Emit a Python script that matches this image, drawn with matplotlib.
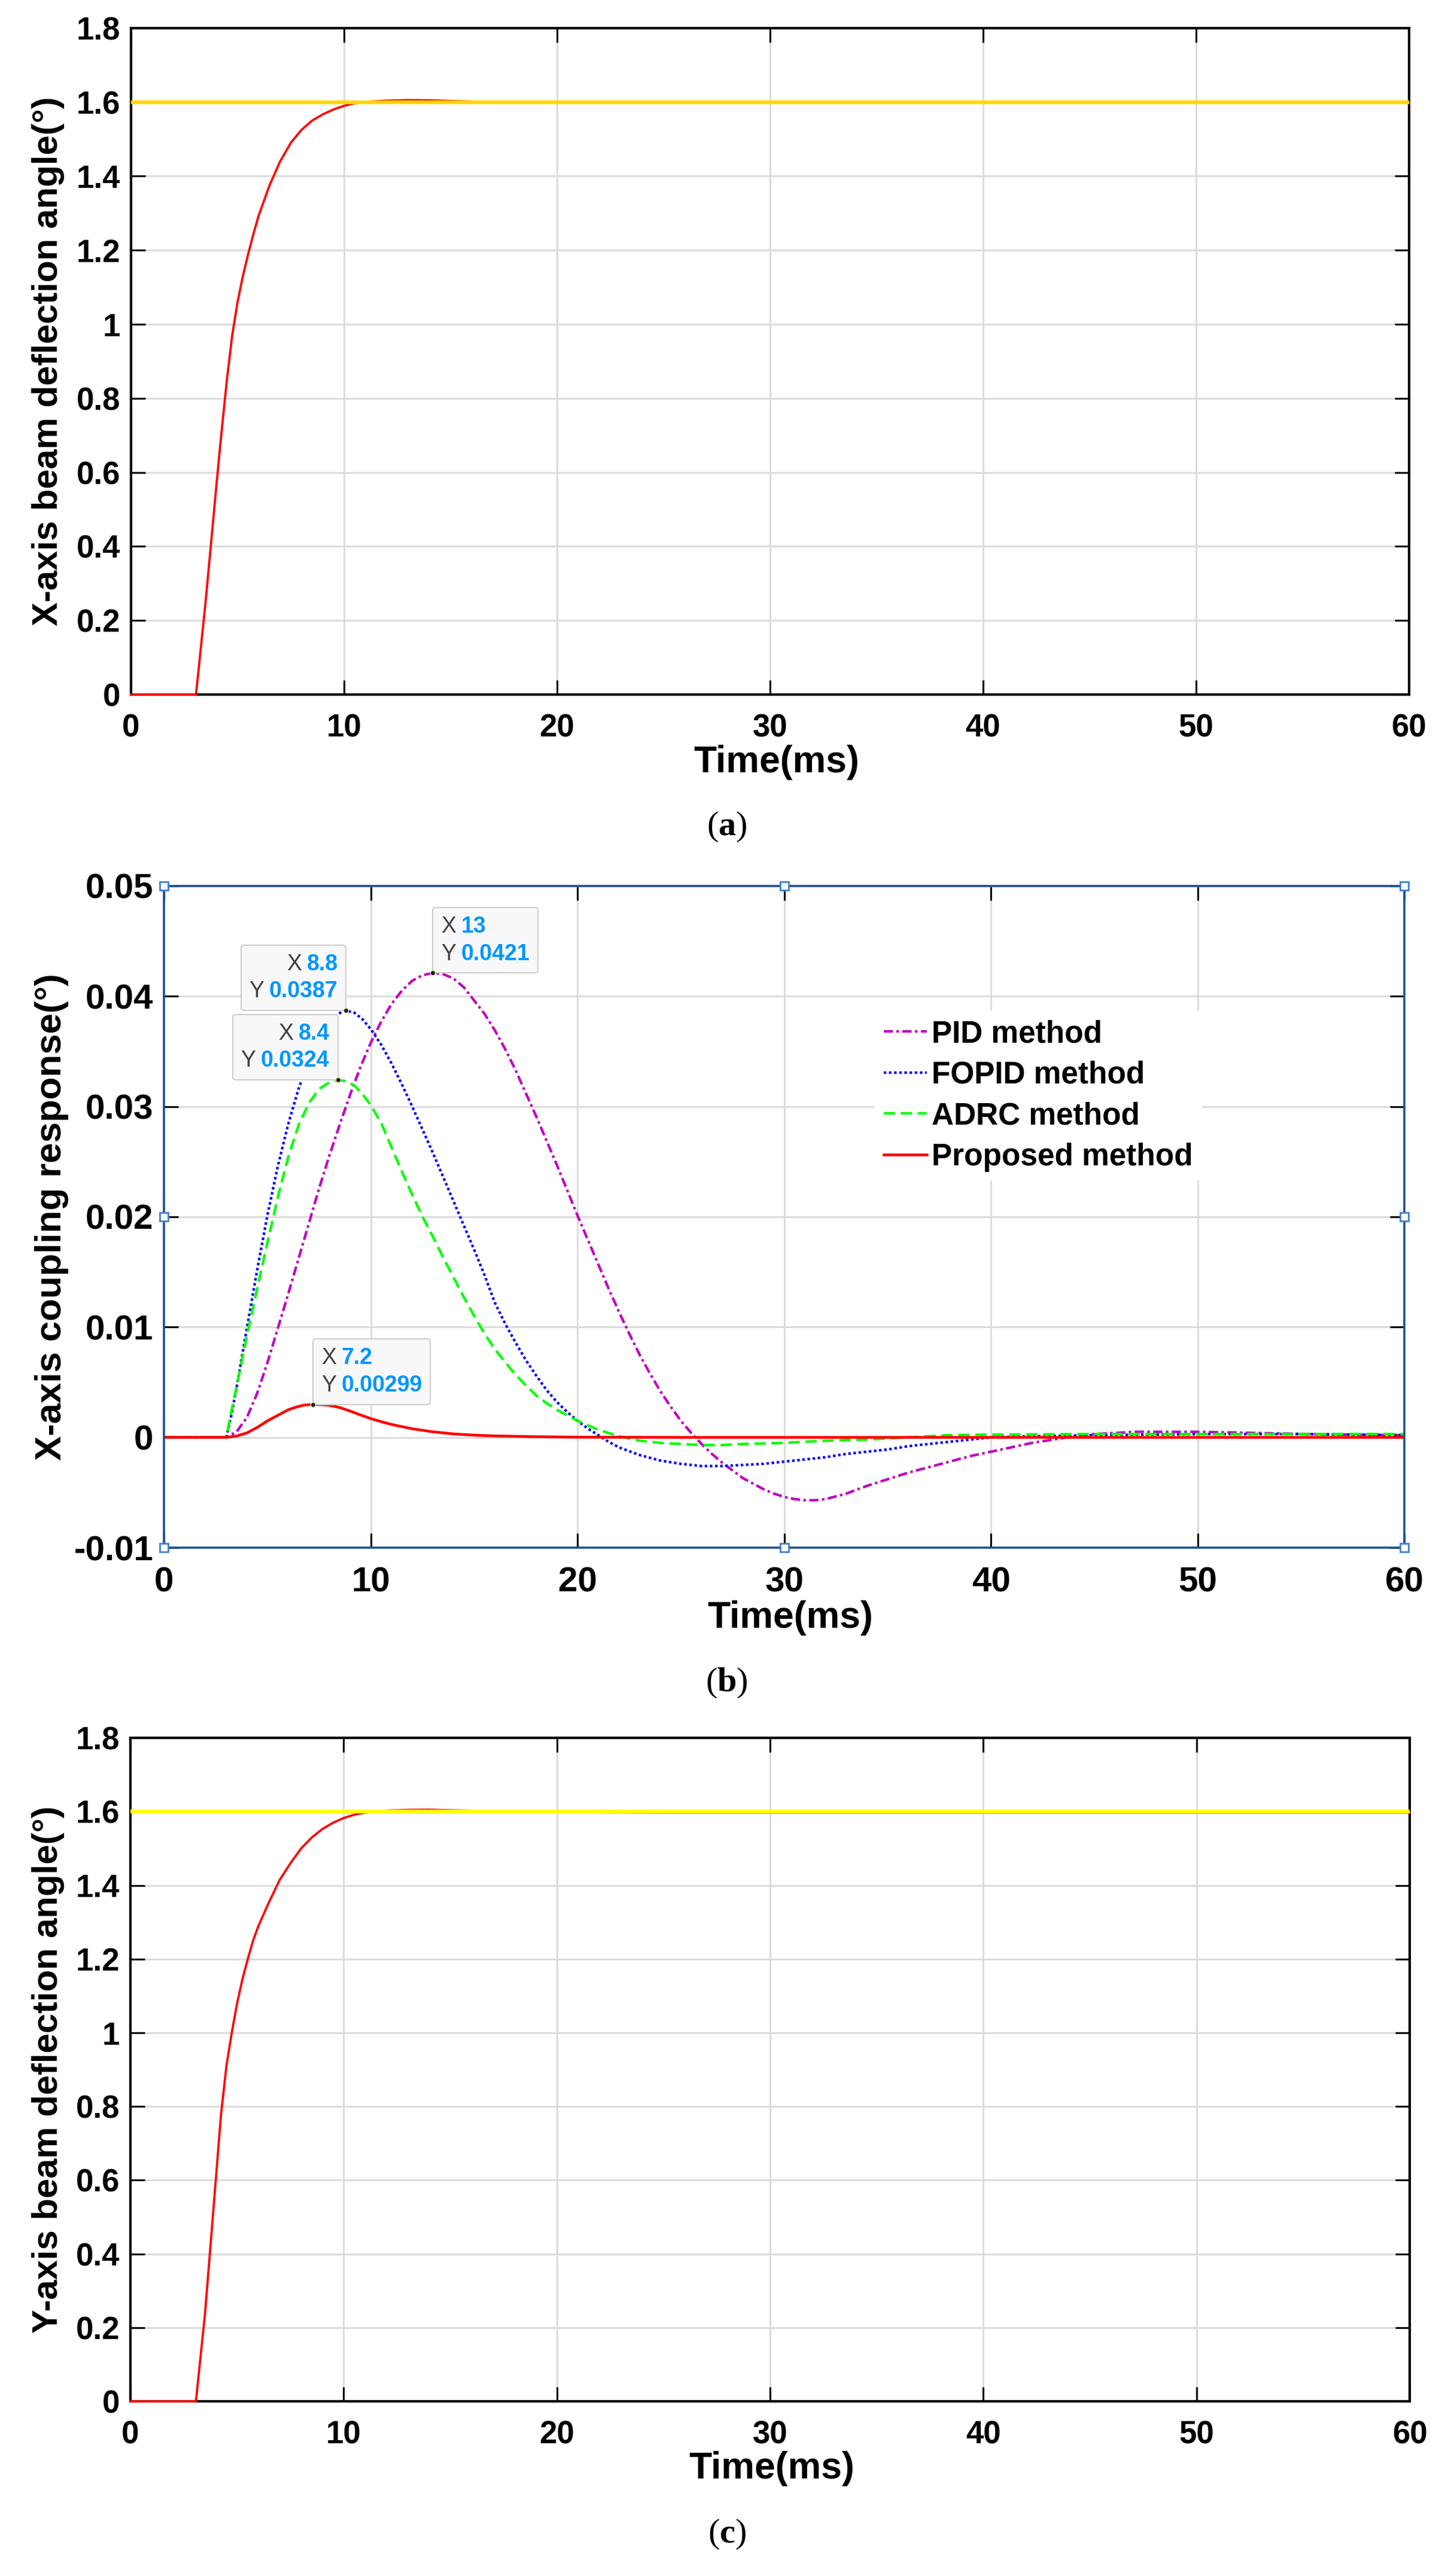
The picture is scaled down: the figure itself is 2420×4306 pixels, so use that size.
import matplotlib
matplotlib.use('Agg')
import matplotlib.pyplot as plt
from matplotlib.offsetbox import TextArea, HPacker, VPacker, AnnotationBbox

plt.rcParams['font.family'] = ['Liberation Sans', 'DejaVu Sans']
plt.rcParams['font.weight'] = 'bold'
plt.rcParams['axes.labelweight'] = 'bold'
plt.rcParams['mathtext.fontset'] = 'custom'
plt.rcParams['mathtext.rm'] = 'Liberation Serif'
plt.rcParams['mathtext.bf'] = 'Liberation Serif:bold'

# shared axis ticks
x_ticks = [0, 10, 20, 30, 40, 50, 60]
angle_ticks = [0, 0.2, 0.4, 0.6, 0.8, 1, 1.2, 1.4, 1.6, 1.8]
coupling_ticks = [-0.01, 0, 0.01, 0.02, 0.03, 0.04, 0.05]

# (a) X-axis beam deflection angle, proposed method
time_a = [0, 3.05, 3.5, 4.0, 4.25, 4.5, 4.75, 5.0, 5.25, 5.5, 5.75, 6.0, 6.5,
          7.0, 7.5, 8.0, 8.5, 9.0, 9.5, 10.0, 10.5, 11.0, 12.0, 13.0, 14.0,
          15.0, 16.5, 18.0, 20.0, 25.0, 60.0]
angle_a = [0, 0, 0.25, 0.56, 0.71, 0.85, 0.97, 1.06, 1.13, 1.19, 1.245, 1.295,
           1.375, 1.44, 1.49, 1.525, 1.55, 1.567, 1.58, 1.59, 1.597, 1.601,
           1.604, 1.6055, 1.605, 1.603, 1.601, 1.600, 1.599, 1.598, 1.598]

# (c) Y-axis beam deflection angle, proposed method
time_c = [0, 3.07, 3.5, 4.0, 4.25, 4.5, 4.75, 5.0, 5.25, 5.5, 5.75, 6.0, 6.5,
          7.0, 7.5, 8.0, 8.5, 9.0, 9.5, 10.0, 10.5, 11.0, 12.0, 13.0, 14.0,
          15.0, 16.5, 18.0, 20.0, 25.0, 60.0]
angle_c = [0, 0, 0.24, 0.60, 0.78, 0.91, 1.0, 1.08, 1.145, 1.2, 1.25, 1.29,
           1.355, 1.415, 1.46, 1.5, 1.53, 1.553, 1.57, 1.583, 1.592, 1.598,
           1.603, 1.605, 1.6055, 1.604, 1.602, 1.600, 1.599, 1.598, 1.598]

# reference angle (both axes)
ref_time = [0, 60]
ref_angle = [1.6, 1.6]

# (b) X-axis coupling response
time_pid = [0, 3.0, 3.5, 4.0, 4.5, 5.0, 5.5, 6.0, 6.5, 7.0, 7.5, 8.0, 8.5,
            9.0, 9.5, 10.0, 10.5, 11.0, 11.5, 12.0, 12.5, 13.0, 13.5, 14.0,
            14.5, 15.0, 15.5, 16.0, 16.5, 17.0, 17.5, 18.0, 18.5, 19.0, 19.5,
            20.0, 20.5, 21.0, 21.5, 22.0, 22.5, 23.0, 23.5, 24.0, 24.5, 25.0,
            25.5, 26.0, 26.5, 27.0, 27.5, 28.0, 28.5, 29.0, 29.5, 30.0, 30.5,
            31.0, 31.5, 32.0, 33.0, 34.0, 35.0, 36.0, 37.0, 38.0, 39.0, 40.0,
            41.0, 42.0, 43.0, 44.0, 45.0, 46.0, 47.0, 48.0, 50.0, 52.0, 54.0,
            56.0, 58.0, 60.0]
resp_pid = [0, 0, 0.0005, 0.0018, 0.0040, 0.0068, 0.0099, 0.0130, 0.0162,
            0.0194, 0.0226, 0.0256, 0.0284, 0.0311, 0.0336, 0.0358, 0.0377,
            0.0393, 0.0405, 0.0414, 0.0419, 0.0421, 0.0420, 0.0416, 0.0408,
            0.0396, 0.0384, 0.0369, 0.0352, 0.0333, 0.0312, 0.0291, 0.0269,
            0.0247, 0.0224, 0.0201, 0.0179, 0.0157, 0.0135, 0.0114, 0.0094,
            0.0075, 0.0058, 0.0042, 0.0028, 0.0015, 0.0004, -0.0006, -0.0015,
            -0.0023, -0.0030, -0.0037, -0.0042, -0.0047, -0.0051, -0.0054,
            -0.0056, -0.0057, -0.0057, -0.0056, -0.0051, -0.0044, -0.0038,
            -0.0032, -0.0027, -0.0022, -0.0017, -0.0013, -0.0009, -0.0005,
            -0.0002, 0.0001, 0.0003, 0.0004, 0.0005, 0.0005, 0.0005, 0.00043,
            0.00035, 0.00028, 0.00023, 0.0002]

time_fopid = [0, 3.0, 3.25, 3.5, 3.75, 4.0, 4.5, 5.0, 5.5, 6.0, 6.5, 7.0, 7.5,
              8.0, 8.4, 8.8, 9.2, 9.6, 10.0, 10.5, 11.0, 11.5, 12.0, 12.5,
              13.0, 13.5, 14.0, 14.5, 15.0, 15.5, 16.0, 16.5, 17.0, 17.5,
              18.0, 18.5, 19.0, 19.5, 20.0, 20.5, 21.0, 21.5, 22.0, 23.0,
              24.0, 25.0, 26.0, 27.0, 28.0, 29.0, 30.0, 31.0, 32.0, 33.0,
              34.0, 35.0, 36.0, 37.0, 38.0, 39.0, 40.0, 42.0, 45.0, 50.0,
              55.0, 60.0]
resp_fopid = [0, 0, 0.0020, 0.0045, 0.0072, 0.0099, 0.0152, 0.0202, 0.0246,
              0.0284, 0.0316, 0.0342, 0.0362, 0.0376, 0.0384, 0.0387, 0.0385,
              0.0379, 0.0370, 0.0356, 0.0339, 0.0320, 0.0300, 0.0279, 0.0258,
              0.0236, 0.0214, 0.0192, 0.0170, 0.0147, 0.0122, 0.0103, 0.0086,
              0.0070, 0.0056, 0.0043, 0.0032, 0.0023, 0.0015, 0.0008, 0.0002,
              -0.0004, -0.0009, -0.0016, -0.0021, -0.0024, -0.0026, -0.0026,
              -0.0025, -0.0024, -0.0022, -0.0020, -0.0018, -0.0015, -0.0013,
              -0.0011, -0.0008, -0.0006, -0.0004, -0.0002, 0.0, 0.0001,
              0.0002, 0.0003, 0.0003, 0.0002]

time_adrc = [0, 3.0, 3.3, 3.6, 4.0, 4.5, 5.0, 5.5, 6.0, 6.5, 7.0, 7.5, 8.0,
             8.4, 8.8, 9.2, 9.6, 10.0, 10.5, 11.0, 11.5, 12.0, 12.5, 13.0,
             13.5, 14.0, 14.5, 15.0, 15.5, 16.0, 16.5, 17.0, 17.5, 18.0, 18.5,
             19.0, 19.5, 20.0, 21.0, 22.0, 23.0, 24.0, 25.0, 26.0, 27.0, 28.0,
             30.0, 32.0, 34.0, 36.0, 38.0, 40.0, 45.0, 50.0, 55.0, 60.0]
resp_adrc = [0, 0, 0.0028, 0.0055, 0.0092, 0.0135, 0.0177, 0.0218, 0.0254,
             0.0283, 0.0303, 0.0316, 0.0322, 0.0324, 0.0323, 0.0319, 0.0311,
             0.0301, 0.0285, 0.0263, 0.0241, 0.0220, 0.0200, 0.0182, 0.0163,
             0.0145, 0.0127, 0.0110, 0.0094, 0.0080, 0.0068, 0.0057, 0.0047,
             0.0038, 0.0031, 0.0025, 0.0020, 0.0015, 0.0007, 0.0001, -0.0003,
             -0.0005, -0.0006, -0.0007, -0.0007, -0.0006, -0.0005, -0.0003,
             -0.0002, 0.0, 0.0002, 0.00025, 0.0003, 0.0003, 0.0003, 0.0003]

time_prop = [0, 3.0, 3.5, 4.0, 4.5, 5.0, 5.5, 6.0, 6.4, 6.75, 7.2, 7.6, 8.0,
             8.5, 9.0, 9.5, 10.0, 10.5, 11.0, 12.0, 13.0, 14.0, 15.0, 16.0,
             18.0, 20.0, 25.0, 60.0]
resp_prop = [0, 0, 0.00012, 0.0004, 0.0009, 0.0015, 0.0020, 0.0025, 0.00275,
             0.00292, 0.00299, 0.00297, 0.0029, 0.0027, 0.00238, 0.00203,
             0.0017, 0.00142, 0.00117, 0.00078, 0.0005, 0.00031, 0.0002,
             0.00013, 0.00006, 0.00002, 0.0, 0.0]

method_names = ['PID method', 'FOPID method', 'ADRC method', 'Proposed method']

# data tips shown on the peaks
tip_x = [13, 8.8, 8.4, 7.2]
tip_y = [0.0421, 0.0387, 0.0324, 0.00299]
tip_side = ['right', 'left', 'left', 'right']


def style_axes(ax, yticks, tick_size, frame='black'):
    ax.set_xlim(0, 60)
    ax.set_ylim(yticks[0], yticks[-1])
    ax.set_xticks(x_ticks, [f'{v:g}' for v in x_ticks], fontweight='bold')
    ax.set_yticks(yticks, [f'{v:g}' for v in yticks], fontweight='bold')
    ax.tick_params(direction='in', top=True, right=True, length=17,
                   width=2.2, labelsize=tick_size)
    ax.tick_params(axis='x', pad=23)
    ax.tick_params(axis='y', pad=13)
    ax.grid(True, color='#dcdcdc', lw=2.2)
    ax.set_axisbelow(True)
    for spine in ax.spines.values():
        spine.set_linewidth(3)
        spine.set_color(frame)


def datatip(ax, x, y, side):
    rows = []
    for lab, val in (('X', f'{x:g}'), ('Y', f'{y:g}')):
        rows.append(HPacker(children=[
            TextArea(lab, textprops=dict(color='#404040', fontsize=27,
                                         fontweight='normal')),
            TextArea(val, textprops=dict(color='#0096ff', fontsize=27,
                                         fontweight='bold')),
        ], align='baseline', pad=0, sep=6))
    box = VPacker(children=rows, align='left' if side == 'right' else 'right',
                  pad=0, sep=7)
    off = 10 if side == 'right' else -10
    ab = AnnotationBbox(
        box, (x, y), xybox=(off, 10), xycoords='data',
        boxcoords='offset points',
        box_alignment=(0, 0) if side == 'right' else (1, 0),
        fontsize=25, pad=0.4, frameon=True, zorder=8,
        bboxprops=dict(boxstyle='round,pad=0.4,rounding_size=0.15',
                       fc='#f8f8fb', ec='#cdcdcd', lw=1.5))
    ax.add_artist(ab)


fig = plt.figure(figsize=(24.2, 43.06), dpi=100)

# ---- (a) ----
ax_a = fig.add_axes([0.0905, 0.7304, 0.8826, 0.2587])
style_axes(ax_a, angle_ticks, 38)
ax_a.plot(time_a, angle_a, color='#ff0000', lw=2.7, zorder=3, clip_on=False)
ax_a.plot(ref_time, ref_angle, color='#ffd700', lw=4.6, zorder=4)
ax_a.set_ylabel('X-axis beam deflection angle(°)', fontsize=43,
                fontweight='bold')
ax_a.yaxis.set_label_coords(-0.052, 0.5)
ax_a.set_xlabel('Time(ms)', fontsize=45, fontweight='bold')
ax_a.xaxis.set_label_coords(0.505, -0.0754)

# ---- (b) ----
ax_b = fig.add_axes([0.1134, 0.3992, 0.8564, 0.2569])
style_axes(ax_b, coupling_ticks, 42, frame='#1f4f94')
for spine in ax_b.spines.values():
    spine.set_linewidth(2.6)
ax_b.plot(time_pid, resp_pid, color='#c000c0', lw=3.1,
          dashes=(3.6, 1.3, 1, 1.3), label=method_names[0])
ax_b.plot(time_fopid, resp_fopid, color='#0000ff', lw=3.1,
          dashes=(1, 1), label=method_names[1])
ax_b.plot(time_adrc, resp_adrc, color='#00ff00', lw=3.1,
          dashes=(4.4, 2.2), label=method_names[2])
ax_b.plot(time_prop, resp_prop, color='#ff0000', lw=3.3,
          label=method_names[3])
ax_b.legend(loc='upper left', bbox_to_anchor=(0.573, 0.812), fontsize=37,
            frameon=True, fancybox=False, edgecolor='none', facecolor='white',
            framealpha=1, handlelength=1.4, handletextpad=0.15,
            labelspacing=0.38, borderpad=0.3, borderaxespad=0)
for x, y, side in zip(tip_x, tip_y, tip_side):
    datatip(ax_b, x, y, side)
ax_b.plot(tip_x, tip_y, 'o', ms=6, mfc='#1e1e1e', mec='#e6e6a0', mew=1,
          zorder=9)
# selection handles around the edited axes
ax_b.plot([0, 0.5, 1, 1, 1, 0.5, 0, 0], [0, 0, 0, 0.5, 1, 1, 1, 0.5], 's',
          transform=ax_b.transAxes, clip_on=False, ms=10, mfc='white',
          mec='#3f7fd0', mew=2, zorder=10)
ax_b.set_ylabel('X-axis coupling response(°)', fontsize=44.5,
                fontweight='bold')
ax_b.yaxis.set_label_coords(-0.077, 0.5)
ax_b.set_xlabel('Time(ms)', fontsize=45, fontweight='bold')
ax_b.xaxis.set_label_coords(0.505, -0.0796)

# ---- (c) ----
ax_c = fig.add_axes([0.0901, 0.0678, 0.8835, 0.2575])
style_axes(ax_c, angle_ticks, 38)
ax_c.plot(time_c, angle_c, color='#ff0000', lw=2.7, zorder=3, clip_on=False)
ax_c.plot(ref_time, ref_angle, color='#ffff00', lw=4.6, zorder=4)
ax_c.set_ylabel('Y-axis beam deflection angle(°)', fontsize=43,
                fontweight='bold')
ax_c.yaxis.set_label_coords(-0.0513, 0.5)
ax_c.set_xlabel('Time(ms)', fontsize=45, fontweight='bold')
ax_c.xaxis.set_label_coords(0.501, -0.0748)

# panel captions
for ypos, letter in ((0.679, 'a'), (0.3467, 'b'), (0.01626, 'c')):
    fig.text(0.502, ypos, r'($\mathbf{' + letter + '}$)', fontsize=42,
             family='Liberation Serif', fontweight='normal',
             ha='center', va='center')

fig.savefig('out.png', dpi=100)
